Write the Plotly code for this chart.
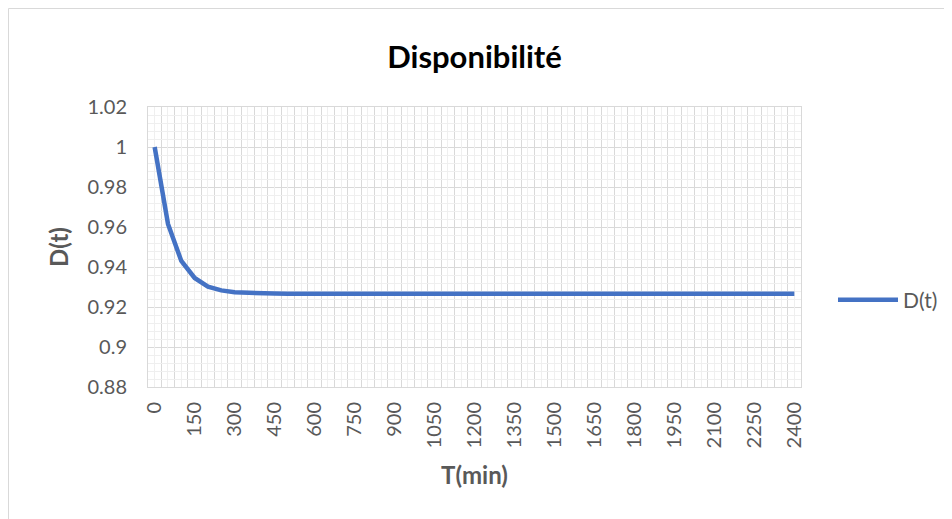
import plotly.graph_objects as go

# ---- data ----
t_min = [0, 50, 100, 150, 200, 250, 300, 350, 400, 450,
         500, 550, 600, 650, 700, 750, 800, 850, 900, 950,
         1000, 1050, 1100, 1150, 1200, 1250, 1300, 1350, 1400, 1450,
         1500, 1550, 1600, 1650, 1700, 1750, 1800, 1850, 1900, 1950,
         2000, 2050, 2100, 2150, 2200, 2250, 2300, 2350, 2400]
d_t = [1.0000, 0.9615, 0.9430, 0.9345, 0.9302, 0.9283, 0.9274, 0.9270, 0.9268, 0.9267,
       0.9266, 0.9266, 0.9266, 0.9266, 0.9266, 0.9266, 0.9266, 0.9266, 0.9266, 0.9266,
       0.9266, 0.9266, 0.9266, 0.9266, 0.9266, 0.9266, 0.9266, 0.9266, 0.9266, 0.9266,
       0.9266, 0.9266, 0.9266, 0.9266, 0.9266, 0.9266, 0.9266, 0.9266, 0.9266, 0.9266,
       0.9266, 0.9266, 0.9266, 0.9266, 0.9266, 0.9266, 0.9266, 0.9266, 0.9266]
x_tick_vals = [0, 150, 300, 450, 600, 750, 900, 1050, 1200, 1350,
               1500, 1650, 1800, 1950, 2100, 2250, 2400]
x_tick_text = [str(v) for v in x_tick_vals]
y_tick_vals = [0.88, 0.9, 0.92, 0.94, 0.96, 0.98, 1.0, 1.02]
y_tick_text = ["0.88", "0.9", "0.92", "0.94", "0.96", "0.98", "1", "1.02"]

series_name = "D(t)"
chart_title = "Disponibilité"
x_title = "T(min)"
y_title = "D(t)"

FONT = "Lato"
GRAY = "#595959"
MAJ = "#d9d9d9"
MIN = "#efefef"
XR = [-25, 2425]

# page body has an 8px default margin; compensate so the picture lines up
L, T, PW, PH = 140, 99, 653, 280

fig = go.Figure()
fig.add_trace(go.Scatter(
    x=t_min, y=d_t, mode="lines", name=series_name,
    line=dict(color="#4472C4", width=4.5),
))
# invisible helper trace so the overlay axis (category-centre gridlines) is drawn
fig.add_trace(go.Scatter(
    x=t_min, y=d_t, mode="lines", xaxis="x2", showlegend=False,
    line=dict(color="rgba(0,0,0,0)", width=0), hoverinfo="skip",
))

fig.update_layout(
    width=952, height=519,
    paper_bgcolor="white", plot_bgcolor="white",
    margin=dict(l=L, r=952 - L - PW, t=T, b=519 - T - PH),
    font=dict(family=FONT, color=GRAY, size=20),
    title=dict(text=chart_title, x=0.5, xref="paper", xanchor="center",
               y=1 - 49 / 519, yref="container", yanchor="middle",
               font=dict(family=FONT, size=31, color="black", weight="bold")),
    showlegend=True,
    legend=dict(x=1.049, xanchor="left", y=0.31, yanchor="middle",
                font=dict(family=FONT, size=21, color=GRAY),
                itemwidth=60, bgcolor="rgba(0,0,0,0)"),
    xaxis=dict(
        range=XR, tickmode="array", tickvals=x_tick_vals, ticktext=x_tick_text,
        tickangle=-90, showgrid=False, zeroline=False, ticks="",
        ticklabelstandoff=6,
        showline=True, mirror=True, linecolor=MAJ, linewidth=1,
        minor=dict(tick0=25, dtick=50, showgrid=True, gridcolor=MAJ, gridwidth=1),
        title=dict(text=x_title, standoff=19,
                   font=dict(family=FONT, size=24, color=GRAY, weight="bold")),
        tickfont=dict(family=FONT, size=20, color=GRAY),
        layer="below traces",
    ),
    xaxis2=dict(
        range=XR, overlaying="x", side="bottom", showticklabels=False,
        tick0=0, dtick=50, showgrid=True, gridcolor=MIN, gridwidth=1,
        zeroline=False, ticks="", showline=False,
    ),
    yaxis=dict(
        range=[0.88, 1.02], tickmode="array", tickvals=y_tick_vals, ticktext=y_tick_text,
        showgrid=True, gridcolor=MAJ, gridwidth=1, zeroline=False, ticks="",
        ticklabelstandoff=16,
        showline=True, mirror=True, linecolor=MAJ, linewidth=1,
        minor=dict(dtick=0.004, tick0=0.88, showgrid=True, gridcolor=MIN, gridwidth=1),
        title=dict(text=y_title, standoff=12,
                   font=dict(family=FONT, size=24, color=GRAY, weight="bold")),
        tickfont=dict(family=FONT, size=20, color=GRAY),
    ),
    shapes=[dict(type="rect", xref="paper", yref="paper",
                 x0=(0.5 - L) / PW, x1=(1000 - L) / PW,
                 y0=(T + PH - 560) / PH, y1=(T + PH - 0.5) / PH,
                 line=dict(color="#d9d9d9", width=1), fillcolor="rgba(0,0,0,0)",
                 layer="below")],
)

fig.write_html("out.html")
